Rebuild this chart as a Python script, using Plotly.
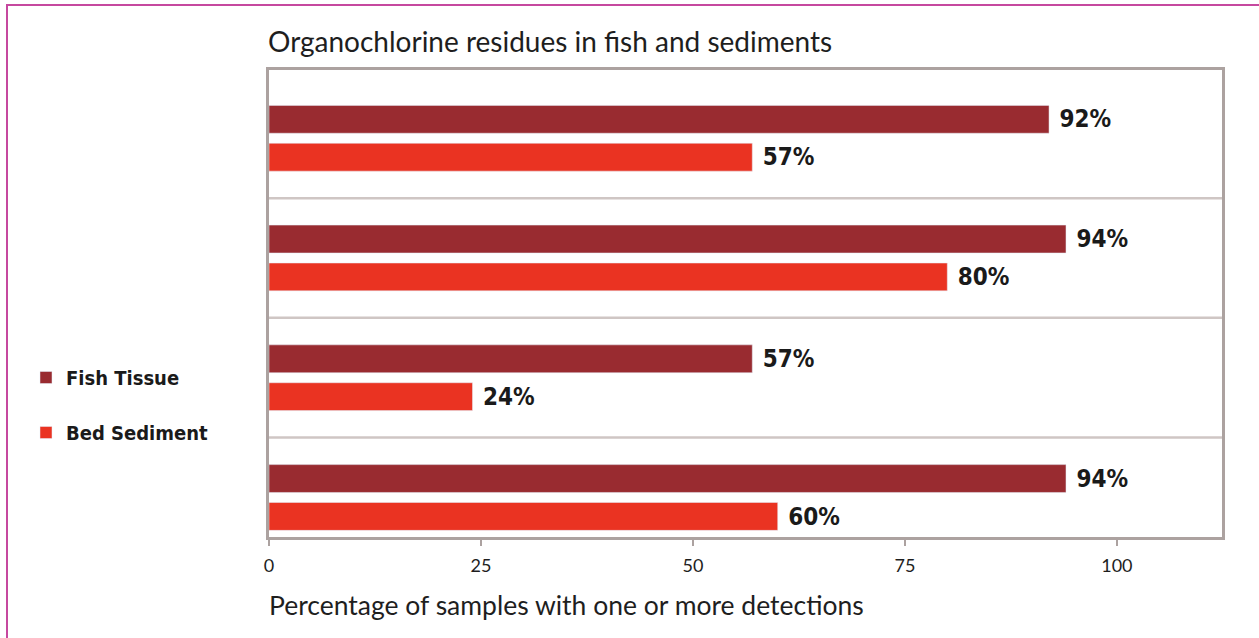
import plotly.graph_objects as go

# Data
groups = ["Group 4", "Group 3", "Group 2", "Group 1"]  # bottom -> top (category labels not shown in source)
fish_tissue = [94, 57, 94, 92]
bed_sediment = [60, 24, 80, 57]
x_ticks = [0, 25, 50, 75, 100]
title_text = "Organochlorine residues in fish and sediments"
x_title = "Percentage of samples with one or more detections"

W, H = 1259, 638
L, R, T, B = 269, 37, 70, 101
pw, ph = W - L - R, H - T - B

def px_x(p):
    return (p - L) / pw

def px_y(p):
    return (H - B - p) / ph

cond_family = "Liberation Sans Narrow, DejaVu Sans Condensed, Arial Narrow, sans-serif"
label_font = dict(family=cond_family, size=25, color="#1a1a1a", weight="bold")

fig = go.Figure()
fig.add_trace(go.Bar(
    y=groups, x=bed_sediment, orientation="h", name="Bed Sediment",
    marker=dict(color="#ea3322"), legendrank=2, legendgroup="b",
    texttemplate="\u00a0%{x}%", textposition="outside", textfont=label_font,
    cliponaxis=False,
))
fig.add_trace(go.Bar(
    y=groups, x=fish_tissue, orientation="h", name="Fish Tissue",
    marker=dict(color="#992b30"), legendrank=1, legendgroup="a",
    texttemplate="\u00a0%{x}%", textposition="outside", textfont=label_font,
    cliponaxis=False,
))

# group separators
for yv in [0.5, 1.5, 2.5]:
    fig.add_shape(type="line", xref="paper", yref="y", x0=0, x1=1, y0=yv, y1=yv,
                  line=dict(color="#cfc6c4", width=2.5), layer="below")

# page border (top + left visible)
fig.add_shape(type="rect", xref="paper", yref="paper",
              x0=px_x(7), x1=px_x(1300), y0=px_y(700), y1=px_y(5),
              line=dict(color="#c6489f", width=2))

fig.add_annotation(text=x_title, xref="paper", yref="paper", x=px_x(267), y=px_y(605),
                   xanchor="left", yanchor="middle", showarrow=False,
                   font=dict(family="Lato, Open Sans, sans-serif", size=26.5, color="#1e1e1e"))

fig.update_layout(
    width=W, height=H,
    margin=dict(l=L, r=R, t=T, b=B),
    paper_bgcolor="white", plot_bgcolor="white",
    title=dict(text=title_text, x=(L - 1) / W, xref="container", xanchor="left",
               y=1 - 42 / H, yref="container", yanchor="middle",
               font=dict(family="Lato, Open Sans, sans-serif", size=28, color="#1e1e1e")),
    barmode="group", bargap=0.367, bargroupgap=0.265,
    showlegend=True,
    legend=dict(x=px_x(26), y=px_y(358), xanchor="left", yanchor="top",
                traceorder="grouped", tracegroupgap=26,
                font=dict(family=cond_family, size=20, color="#1a1a1a", weight="bold"),
                bgcolor="rgba(0,0,0,0)"),
    xaxis=dict(range=[0, 112.4], tickvals=x_ticks, showgrid=False, zeroline=False,
               showline=True, mirror=True, linecolor="#aca2a0", linewidth=2.5,
               ticks="outside", ticklen=6, tickcolor="#aca2a0", tickwidth=1.5,
               ticklabelstandoff=5,
               tickfont=dict(family="Lato, Open Sans, sans-serif", size=18, color="#1e1e1e")),
    yaxis=dict(range=[-0.33, 3.57], showticklabels=False, showgrid=False, zeroline=False,
               showline=True, mirror=True, linecolor="#aca2a0", linewidth=2.5, ticks=""),
)

fig.write_html("out.html", config={"displayModeBar": False},
               post_script="document.body.style.margin='0';")
